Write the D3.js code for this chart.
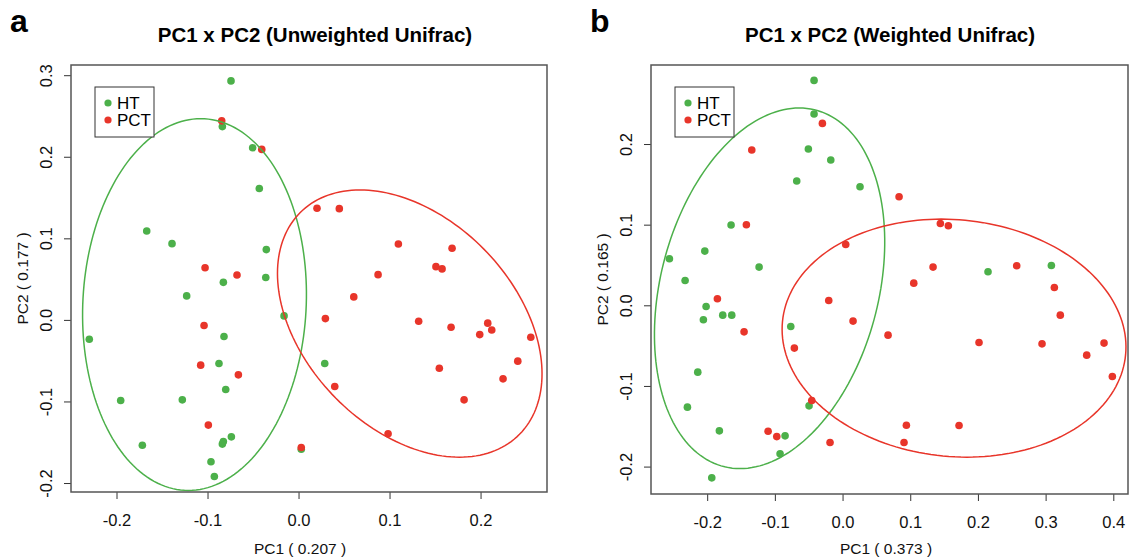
<!DOCTYPE html>
<html lang="en">

<head>
  <meta charset="UTF-8">
  <title>PCoA Unifrac</title>
  <script src="https://d3js.org/d3.v7.min.js"></script>
  <style>
    body {
      margin: 0;
      background: white;
    }

    svg {
      display: block;
      font-family: "Liberation Sans", Arial, sans-serif;
    }

    .title {
      font-size: 20.5px;
      font-weight: bold;
    }

    .letter {
      font-size: 32px;
      font-weight: bold;
    }

    .tick text {
      font-size: 16.5px;
      fill: #111;
    }

    .axis-title {
      font-size: 15.5px;
      fill: #111;
    }

    .legend text {
      font-size: 17px;
    }
  </style>
</head>

<body>
  <div id="chart"></div>

  <script>
    // sample coordinates [PC1, PC2]
    const htUnweighted = [
      [-0.0742, 0.293], [-0.0837, 0.237], [-0.0504, 0.211], [-0.0431, 0.161], [-0.1668, 0.109],
      [-0.139, 0.0935], [-0.0354, 0.0862], [-0.036, 0.052], [-0.0826, 0.046], [-0.1229, 0.0294],
      [-0.0159, 0.0049], [-0.2299, -0.0237], [-0.0819, -0.0204], [-0.0874, -0.0535], [-0.08, -0.0854],
      [-0.1954, -0.0989], [-0.1277, -0.098], [-0.0738, -0.1434], [-0.0826, -0.149], [-0.0837, -0.1523],
      [-0.1716, -0.1536], [-0.0962, -0.174], [-0.0925, -0.192], [0.003, -0.1585], [0.0288, -0.0535]
    ]
    const pctUnweighted = [
      [-0.0844, 0.244], [-0.0404, 0.209], [-0.1027, 0.064], [-0.0676, 0.055], [-0.1038, -0.0069],
      [-0.1075, -0.0555], [-0.0661, -0.0674], [-0.0991, -0.129], [0.003, -0.1565], [0.0295, 0.0016],
      [0.0398, -0.0817], [0.0984, -0.1397], [0.0874, 0.0555], [0.0607, 0.0282], [0.151, 0.0653],
      [0.1577, 0.0625], [0.132, -0.0016], [0.1676, -0.009], [0.2079, -0.004], [0.2123, -0.0123],
      [0.1991, -0.018], [0.2552, -0.0212], [0.2409, -0.0506], [0.2247, -0.0723], [0.1547, -0.0592],
      [0.1819, -0.098], [0.0203, 0.1369], [0.0448, 0.1364], [0.1097, 0.0931], [0.1687, 0.0879]
    ]
    const htWeighted = [
      [-0.0421, 0.2789], [-0.0421, 0.2372], [-0.0505, 0.1938], [-0.0174, 0.1801], [-0.0677, 0.1541],
      [0.0258, 0.147], [-0.1647, 0.0995], [-0.2035, 0.0672], [-0.2558, 0.0577], [-0.1233, 0.0474],
      [-0.2326, 0.0308], [-0.2016, -0.0015], [-0.2056, -0.018], [-0.177, -0.0122], [-0.1637, -0.0122],
      [-0.0765, -0.0263], [-0.2139, -0.0829], [-0.2292, -0.1263], [-0.0495, -0.1247], [-0.182, -0.1557],
      [-0.0849, -0.1619], [-0.0923, -0.1842], [-0.1932, -0.214], [0.2149, 0.0416], [0.3085, 0.0494]
    ]
    const pctWeighted = [
      [-0.0298, 0.2256], [-0.1341, 0.1925], [0.0835, 0.1346], [-0.1421, 0.0999], [0.0047, 0.0754],
      [-0.1849, 0.0081], [-0.1455, -0.0329], [-0.0712, -0.0531], [-0.0204, 0.006], [0.0155, -0.0196],
      [0.0672, -0.037], [-0.0455, -0.1181], [-0.11, -0.1561], [-0.0972, -0.1628], [-0.0185, -0.1702],
      [0.1445, 0.1015], [0.1563, 0.0986], [0.1337, 0.0474], [0.2573, 0.049], [0.3129, 0.0221],
      [0.1052, 0.0275], [0.3217, -0.0122], [0.2016, -0.0461], [0.2947, -0.0478], [0.3863, -0.0469],
      [0.3607, -0.0618], [0.3986, -0.0883], [0.0943, -0.1487], [0.1721, -0.1491], [0.0908, -0.1702]
    ]

    // ellipses: [centre x, centre y, horizontal half-axis, upper half-diameter x, upper half-diameter y]
    const ellipseHTUnweighted = [-0.1143, 0.0188, 0.1228, 0.0068, 0.2279]
    const ellipsePCTUnweighted = [0.1222, -0.0045, 0.1347, -0.0546, 0.1638]
    const ellipseHTWeighted = [-0.1078, 0.0211, 0.1644, 0.0437, 0.2236]
    const ellipsePCTWeighted = [0.1647, -0.0407, 0.2533, -0.0189, 0.1476]

    const groups = ['HT', 'PCT']

    const xTicksA = [-0.2, -0.1, 0.0, 0.1, 0.2]
    const yTicksA = [-0.2, -0.1, 0.0, 0.1, 0.2, 0.3]
    const xTicksB = [-0.2, -0.1, 0.0, 0.1, 0.2, 0.3, 0.4]
    const yTicksB = [-0.2, -0.1, 0.0, 0.1, 0.2]

    const width = 1129
    const height = 557
    const green = '#4cb04a'
    const red = '#e8352a'

    const svg = d3.select('#chart')
      .append('svg')
      .attr('width', width)
      .attr('height', height)

    const fmt = v => Math.abs(v) < 1e-9 ? '0.0' : v.toFixed(1)

    const drawPanel = p => {
      const x = d3.scaleLinear().domain(p.xDomain).range([p.left, p.right])
      const y = d3.scaleLinear().domain(p.yDomain).range([p.bottom, p.top])

      const g = svg.append('g')

      svg.append('text')
        .attr('class', 'letter')
        .attr('x', p.letterX)
        .attr('y', 32)
        .text(p.letter)

      svg.append('text')
        .attr('class', 'title')
        .attr('x', p.titleX)
        .attr('y', 42)
        .attr('text-anchor', 'middle')
        .text(p.title)

      // axes
      const xAxis = g.append('g')
        .attr('transform', `translate(0,${p.bottom})`)
        .call(d3.axisBottom(x).tickValues(p.xTicks).tickSize(7).tickFormat(fmt))
      xAxis.select('.domain').remove()
      xAxis.selectAll('line').attr('stroke', '#333')
      xAxis.selectAll('text').attr('y', 34).attr('dy', 0)

      const yAxis = g.append('g')
        .attr('transform', `translate(${p.left},0)`)
        .call(d3.axisLeft(y).tickValues(p.yTicks).tickSize(7).tickFormat(fmt))
      yAxis.select('.domain').remove()
      yAxis.selectAll('line').attr('stroke', '#333')
      yAxis.selectAll('text')
        .attr('transform', 'rotate(-90)')
        .attr('x', 0)
        .attr('y', -19)
        .attr('dy', 0)
        .attr('text-anchor', 'middle')

      g.append('text')
        .attr('class', 'axis-title')
        .attr('x', p.xLabelX)
        .attr('y', 554)
        .attr('text-anchor', 'middle')
        .text(p.xLabel)

      g.append('text')
        .attr('class', 'axis-title')
        .attr('transform', `translate(${p.left - 43},${(p.top + p.bottom) / 2}) rotate(-90)`)
        .attr('text-anchor', 'middle')
        .text(p.yLabel)

      // points
      g.selectAll('.ht')
        .data(p.ht)
        .enter()
        .append('circle')
        .attr('cx', d => x(d[0]))
        .attr('cy', d => y(d[1]))
        .attr('r', 3.8)
        .attr('fill', green)

      g.selectAll('.pct')
        .data(p.pct)
        .enter()
        .append('circle')
        .attr('cx', d => x(d[0]))
        .attr('cy', d => y(d[1]))
        .attr('r', 3.8)
        .attr('fill', red)

      // ellipses
      const line = d3.line().x(d => x(d[0])).y(d => y(d[1]))
      const ellipse = e => d3.range(0, 2 * Math.PI + 0.01, Math.PI / 90)
        .map(t => [e[0] + e[2] * Math.cos(t) + e[3] * Math.sin(t), e[1] + e[4] * Math.sin(t)])

      g.append('path')
        .attr('d', line(ellipse(p.ellHT)))
        .attr('fill', 'none')
        .attr('stroke', green)
        .attr('stroke-width', 1.5)

      g.append('path')
        .attr('d', line(ellipse(p.ellPCT)))
        .attr('fill', 'none')
        .attr('stroke', red)
        .attr('stroke-width', 1.5)

      // box
      g.append('rect')
        .attr('x', p.left)
        .attr('y', p.top)
        .attr('width', p.right - p.left)
        .attr('height', p.bottom - p.top)
        .attr('fill', 'none')
        .attr('stroke', '#555')
        .attr('stroke-width', 1.5)

      // legend
      const legend = g.append('g')
        .attr('class', 'legend')
        .attr('transform', `translate(${p.left + 24},${p.top + 22})`)

      legend.append('rect')
        .attr('width', 59)
        .attr('height', 50)
        .attr('fill', 'white')
        .attr('stroke', '#333')
        .attr('stroke-width', 1)

      legend.selectAll('circle')
        .data(groups)
        .enter()
        .append('circle')
        .attr('cx', 13)
        .attr('cy', (_, i) => 16 + i * 17)
        .attr('r', 3.6)
        .attr('fill', (_, i) => i ? red : green)

      legend.selectAll('text')
        .data(groups)
        .enter()
        .append('text')
        .attr('x', 22)
        .attr('y', (_, i) => 22 + i * 17)
        .text(d => d)
    }

    drawPanel({
      letter: 'a', letterX: 10, titleX: 315, xLabelX: 300,
      title: 'PC1 x PC2 (Unweighted Unifrac)',
      xLabel: 'PC1 ( 0.207 )', yLabel: 'PC2 ( 0.177 )',
      left: 71, right: 547, top: 65, bottom: 492,
      xDomain: [-0.25, 0.273], yDomain: [-0.211, 0.3125],
      xTicks: xTicksA, yTicks: yTicksA,
      ht: htUnweighted, pct: pctUnweighted,
      ellHT: ellipseHTUnweighted, ellPCT: ellipsePCTUnweighted
    })

    drawPanel({
      letter: 'b', letterX: 590, titleX: 890, xLabelX: 886,
      title: 'PC1 x PC2 (Weighted Unifrac)',
      xLabel: 'PC1 ( 0.373 )', yLabel: 'PC2 ( 0.165 )',
      left: 651, right: 1128, top: 65, bottom: 494,
      xDomain: [-0.283, 0.4217], yDomain: [-0.234, 0.298],
      xTicks: xTicksB, yTicks: yTicksB,
      ht: htWeighted, pct: pctWeighted,
      ellHT: ellipseHTWeighted, ellPCT: ellipsePCTWeighted
    })
  </script>
</body>

</html>
